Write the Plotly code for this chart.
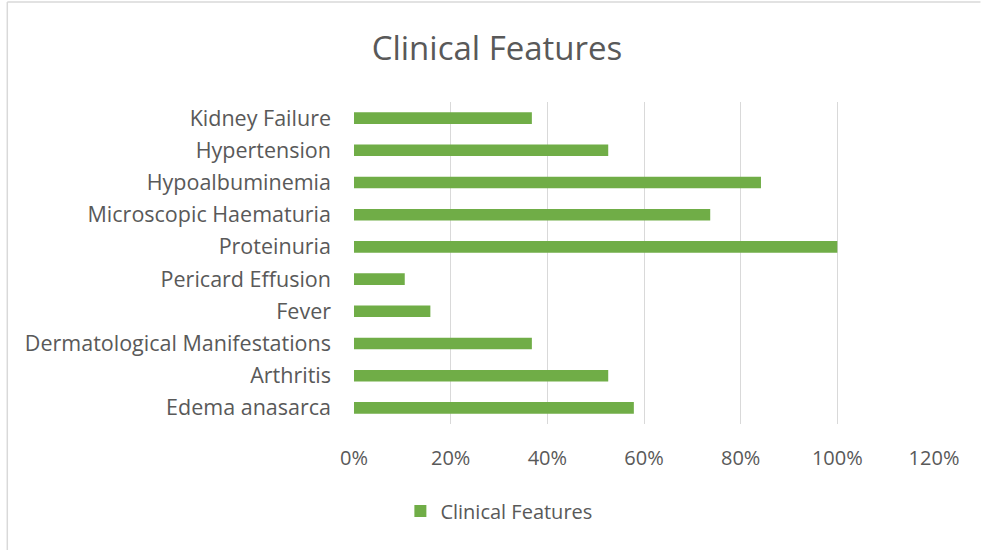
import plotly.graph_objects as go

categories = ["Edema anasarca", "Arthritis", "Dermatological Manifestations", "Fever",
              "Pericard Effusion", "Proteinuria", "Microscopic Haematuria",
              "Hypoalbuminemia", "Hypertension", "Kidney Failure"]
values = [0.579, 0.526, 0.368, 0.158, 0.105, 1.0, 0.737, 0.842, 0.526, 0.368]
tick_vals = [0, 0.2, 0.4, 0.6, 0.8, 1.0, 1.2]
tick_text = ["0%", "20%", "40%", "60%", "80%", "100%", "120%"]

FONT = "Open Sans"
GREY = "#595959"

W, H = 981, 550
L, R, T, B = 354, 934.5, 102, 424
pw, ph = R - L, B - T

fig = go.Figure()
fig.add_trace(go.Bar(
    y=categories, x=values, orientation="h", name="Clinical Features",
    marker=dict(color="#70ad47", line=dict(width=0)),
    showlegend=True,
))

fig.update_layout(
    width=W, height=H,
    margin=dict(l=L, r=W - R, t=T, b=H - B, pad=0),
    paper_bgcolor="white", plot_bgcolor="white",
    title=dict(text="Clinical Features", x=497 / W, xref="container", xanchor="center",
               y=1 - 48 / H, yref="container", yanchor="middle",
               font=dict(family=FONT, size=33, color=GREY)),
    bargap=0.64,
    showlegend=True,
    legend=dict(orientation="h", x=(499 - L) / pw, xanchor="center",
                y=(B - 511) / ph, yanchor="middle", itemwidth=30,
                font=dict(family=FONT, size=20, color=GREY)),
    font=dict(family=FONT, color=GREY),
)
fig.update_xaxes(range=[0, 1.2], tickvals=tick_vals, ticktext=tick_text,
                 showgrid=True, gridcolor="#d9d9d9", gridwidth=1, zeroline=False,
                 showline=False, ticks="", ticklabelstandoff=20,
                 tickfont=dict(family=FONT, size=20, color=GREY), fixedrange=True)
fig.update_yaxes(categoryorder="array", categoryarray=categories,
                 showgrid=False, zeroline=False, showline=False, ticks="",
                 ticklabelstandoff=22,
                 tickfont=dict(family=FONT, size=21.5, color=GREY), fixedrange=True)

# chart border (left and top edges)
fig.add_shape(type="line", xref="paper", yref="paper",
              x0=(7 - L) / pw, x1=(7 - L) / pw, y0=(B - H) / ph, y1=(B - 2) / ph,
              line=dict(color="#d9d9d9", width=1.5), layer="below")
fig.add_shape(type="line", xref="paper", yref="paper",
              x0=(7 - L) / pw, x1=(W - L) / pw, y0=(B - 2) / ph, y1=(B - 2) / ph,
              line=dict(color="#d9d9d9", width=1.5), layer="below")

fig.write_html("out.html", config={"displayModeBar": False},
               post_script="document.body.style.margin='0';")
